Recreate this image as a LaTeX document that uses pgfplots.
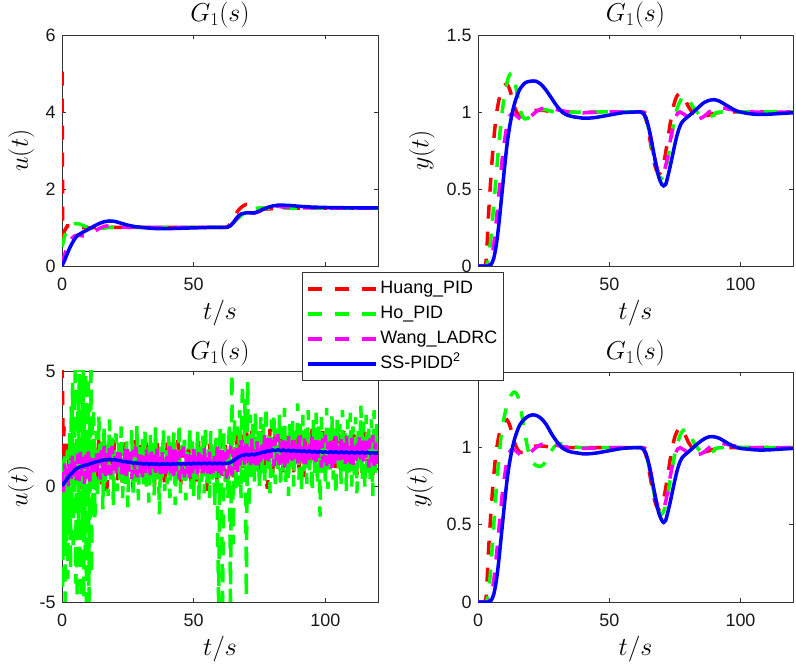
\documentclass[border=0pt]{standalone}
\usepackage{fix-cm}
\usepackage[no-math]{fontspec}
\setmainfont{Liberation Sans}
\usepackage{pgfplots}
\pgfplotsset{compat=1.18}
\definecolor{mred}{rgb}{1,0,0}
\definecolor{mgreen}{rgb}{0,1,0}
\definecolor{mmag}{rgb}{1,0,1}
\definecolor{mblue}{rgb}{0,0,1}
\pgfplotsset{
  mybase/.style={
    scale only axis, anchor=south west,
    xmin=0, xmax=120, xtick={0,50,100},
    axis line style={draw=black!80, line width=0.8bp},
    tick style={draw=black!80, line width=0.8bp},
    tick align=inside, major tick length=4bp,
    /pgf/number format/assume math mode=true,
    ticklabel style={font=\fontsize{18}{20}\selectfont, text=black!90},
    xticklabel style={yshift=-8bp},
    yticklabel style={xshift=-3bp},
    title={$G_1(s)$}, xlabel={$t/s$},
    label style={font=\fontsize{26}{28}\selectfont},
    xlabel style={at={([yshift=-47bp]axis description cs:0.5,0)}, anchor=center},
  },
  tpos/.style={every axis title/.style={font=\fontsize{26}{28}\selectfont, at={([yshift=#1]axis description cs:0.5,1)}, anchor=center}},
  dH/.style={color=mred, line width=3.5bp, dash pattern=on 14bp off 13bp},
  dO/.style={color=mgreen, line width=3.5bp, dash pattern=on 14bp off 13bp},
  dW/.style={color=mmag, line width=3.5bp, dash pattern=on 14bp off 13bp},
  dS/.style={color=mblue, line width=3.5bp},
}
\begin{document}
\begin{tikzpicture}
\useasboundingbox (0,0) rectangle (796bp,666bp);
% ---------------- top left
\begin{axis}[mybase, at={(62bp,400bp)}, width=316bp, height=231bp,
  ymin=0, ymax=6, ytick={0,2,4,6}, ylabel={$u(t)$}, tpos=20bp,
  ylabel style={at={([xshift=-40.5bp]axis description cs:0,0.5)}, anchor=center}]
\addplot[dH] coordinates {(0,5.05)(0.3,0.8)(1,0.92)(2,1.04)(3,1.04)(4,1.02)(6,1.0)(10,0.99)(15,1.0)(30,1.0)(62,1.0)(63,1.02)(64,1.1)(65,1.22)(66,1.35)(67,1.45)(68,1.52)(69,1.57)(70,1.6)(71,1.6)(72,1.58)(74,1.53)(76,1.49)(78,1.48)(80,1.49)(85,1.5)(120,1.5)};
\addplot[dO] coordinates {(0,0.5)(0.5,0.62)(1,0.78)(2,0.95)(3,1.03)(4,1.08)(5,1.1)(6,1.1)(7,1.08)(8,1.05)(10,1.0)(12,0.98)(15,0.98)(18,1.0)(25,1.0)(62,1.0)(63,1.01)(64,1.05)(66,1.18)(68,1.31)(70,1.41)(72,1.47)(74,1.5)(76,1.51)(80,1.5)(120,1.5)};
\addplot[dW] coordinates {(0,0.05)(1,0.3)(2,0.5)(3,0.65)(4,0.74)(5,0.79)(6,0.8)(8,0.78)(10,0.8)(12,0.88)(14,0.97)(16,1.03)(18,1.05)(20,1.04)(23,1.01)(27,1.0)(62,1.0)(63,1.01)(64,1.05)(66,1.2)(68,1.34)(70,1.4)(72,1.38)(73,1.37)(75,1.42)(77,1.5)(79,1.55)(81,1.56)(84,1.53)(88,1.51)(120,1.5)};
\addplot[dS] coordinates {(0,0)(1,0.15)(2,0.32)(3,0.48)(4,0.61)(5,0.72)(6,0.8)(8,0.88)(10,0.95)(12,1.03)(14,1.1)(16,1.15)(18,1.17)(20,1.16)(22,1.12)(25,1.06)(28,1.02)(32,0.99)(36,0.97)(40,0.97)(45,0.98)(50,0.99)(55,1.0)(62,1.0)(63,1.01)(64,1.05)(65,1.12)(66,1.22)(67,1.3)(68,1.35)(69,1.37)(70,1.38)(72,1.38)(73,1.38)(74,1.4)(76,1.46)(78,1.52)(80,1.56)(82,1.58)(84,1.58)(87,1.57)(90,1.55)(95,1.53)(100,1.52)(110,1.51)(120,1.51)};
\end{axis}
% ---------------- top right
\begin{axis}[mybase, at={(478bp,400bp)}, width=315bp, height=231bp,
  ymin=0, ymax=1.5, ytick={0,0.5,1,1.5}, ylabel={$y(t)$}, tpos=20bp,
  ylabel style={at={([xshift=-56bp]axis description cs:0,0.5)}, anchor=center}]
\addplot[dH, smooth] coordinates {(0,0)(2,0)(3,0.02)(3.5,0.15)(4,0.33)(5,0.6)(6,0.82)(7,0.98)(8,1.08)(9,1.14)(10,1.17)(11,1.18)(12,1.15)(13,1.09)(14,1.03)(15,0.99)(16,0.97)(17,0.97)(18,0.98)(20,1.0)(22,1.01)(25,1.01)(30,1.0)(45,1.0)(62,1.0)(63,0.99)(64,0.95)(65,0.87)(66,0.77)(67,0.68)(68,0.62)(69,0.6)(70,0.62)(71,0.69)(72,0.79)(73,0.9)(74,1.0)(75,1.07)(76,1.11)(77,1.12)(78,1.11)(79,1.08)(80,1.04)(82,0.99)(84,0.97)(86,0.97)(88,0.98)(90,0.99)(95,1.0)(120,1.0)};
\addplot[dO, smooth] coordinates {(0,0)(3,0)(4,0.05)(5,0.2)(6,0.4)(7,0.6)(8,0.8)(9,0.97)(10,1.1)(11,1.19)(12,1.24)(13,1.25)(14,1.2)(15,1.11)(16,1.02)(17,0.97)(18,0.955)(19,0.96)(20,0.975)(22,1.0)(24,1.015)(26,1.015)(30,1.0)(45,1.0)(62,1.0)(63,0.99)(64,0.96)(65,0.89)(66,0.8)(67,0.71)(68,0.63)(69,0.58)(70,0.57)(71,0.6)(72,0.67)(73,0.77)(74,0.87)(75,0.96)(76,1.03)(77,1.07)(78,1.1)(79,1.1)(80,1.09)(81,1.06)(82,1.03)(84,0.99)(86,0.97)(88,0.97)(90,0.98)(93,1.0)(120,1.0)};
\addplot[dW, smooth] coordinates {(0,0)(4,0)(5,0.04)(6,0.14)(7,0.3)(8,0.48)(9,0.66)(10,0.8)(11,0.91)(12,0.97)(13,0.99)(14,0.985)(15,0.97)(16,0.955)(17,0.945)(18,0.95)(20,0.97)(22,1.0)(24,1.02)(26,1.03)(28,1.025)(30,1.015)(35,1.0)(40,0.995)(50,1.0)(62,1.0)(63,0.99)(64,0.96)(65,0.9)(66,0.82)(67,0.73)(68,0.65)(69,0.6)(70,0.59)(71,0.62)(72,0.69)(73,0.79)(74,0.88)(75,0.95)(76,0.99)(77,1.0)(78,0.99)(80,0.97)(82,0.955)(84,0.955)(86,0.97)(88,1.0)(90,1.02)(92,1.03)(95,1.02)(100,1.005)(105,1.0)(120,1.0)};
\addplot[dS, smooth] coordinates {(0,0)(4,0)(5,0.01)(6,0.05)(7,0.14)(8,0.28)(9,0.45)(10,0.62)(11,0.78)(12,0.9)(13,0.99)(14,1.06)(15,1.11)(16,1.15)(18,1.19)(20,1.2)(22,1.2)(24,1.18)(26,1.14)(28,1.09)(30,1.04)(32,1.0)(34,0.98)(36,0.97)(38,0.965)(40,0.96)(42,0.96)(45,0.965)(50,0.98)(55,0.995)(60,1.0)(62,1.0)(63,0.99)(64,0.96)(65,0.9)(66,0.82)(67,0.73)(68,0.64)(69,0.57)(70,0.53)(70.7,0.52)(71.5,0.53)(72,0.56)(73,0.63)(74,0.71)(75,0.79)(76,0.86)(77,0.91)(78,0.94)(80,0.97)(82,1.0)(84,1.03)(86,1.06)(88,1.075)(90,1.08)(92,1.07)(94,1.05)(96,1.03)(98,1.01)(100,1.0)(103,0.99)(106,0.985)(110,0.985)(115,0.99)(120,0.995)};
\end{axis}
% ---------------- bottom left
\begin{axis}[mybase, at={(62bp,64bp)}, width=316bp, height=231bp,
  ymin=-5, ymax=5, ytick={-5,0,5}, ylabel={$u(t)$}, tpos=18bp,
  ylabel style={at={([xshift=-41bp]axis description cs:0,0.5)}, anchor=center}]
\addplot[dH] coordinates {(0,5.3)(0.25,3.8)(0.5,1.4)(0.75,2.6)(1,-0.2)(2,1.9)(3,0.1)(4,2.1)(5,0.3)(6,1.8)(7,-0.1)(8,2.0)(9,0.4)(10,1.7)(11,0.0)(12,1.9)(13,0.3)(14,2.1)(15,0.1)(16,1.6)(17,-0.2)(18,1.8)(19,0.4)(20,2.0)(21,0.2)(22,1.7)(23,0.0)(24,1.9)(25,0.3)(26,1.6)(27,-0.1)(28,2.0)(29,0.5)(30,1.8)(31,0.1)(32,1.9)(33,0.2)(34,1.7)(35,-0.2)(36,2.1)(37,0.4)(38,1.6)(39,0.0)(40,1.9)(41,0.3)(42,1.8)(43,0.1)(44,2.0)(45,-0.1)(46,1.7)(47,0.4)(48,1.9)(49,0.2)(50,1.6)(51,0.0)(52,2.1)(53,0.3)(54,1.8)(55,-0.2)(56,1.9)(57,0.5)(58,1.7)(59,0.1)(60,2.0)(61,0.2)(62,1.8)(63,0.3)(64,2.1)(65,0.4)(66,2.3)(67,0.7)(68,2.4)(69,0.8)(70,2.6)(71,0.6)(72,2.4)(73,0.7)(74,2.3)(75,0.5)(76,2.4)(77,0.8)(78,-0.1)(79,2.5)(80,0.6)(81,2.3)(82,0.9)(83,2.4)(84,0.5)(85,2.2)(86,0.7)(87,2.5)(88,0.6)(89,2.3)(90,0.8)(91,2.4)(92,0.4)(93,2.2)(94,0.9)(95,2.5)(96,0.6)(97,2.3)(98,0.7)(99,2.4)(100,0.5)(101,2.2)(102,0.8)(103,2.5)(104,0.6)(105,2.3)(106,0.4)(107,2.4)(108,0.7)(109,2.2)(110,0.9)(111,2.5)(112,0.5)(113,2.3)(114,0.6)(115,2.4)(116,0.8)(117,2.2)(118,0.5)(119,2.4)(120,0.7)};
\addplot[dO] coordinates {(0,1.2)(0.25,-4.5)(0.5,1.0)(0.75,-2.5)(1,1.4)(1.25,-5.5)(1.5,0.8)(1.75,-3.0)(2,1.6)(2.25,-4.0)(2.5,0.5)(2.75,-1.8)(3,2.5)(3.25,-3.6)(3.5,3.5)(3.75,-1.0)(4,4.5)(4.25,-2.8)(4.5,3.0)(4.75,-0.5)(5,5.5)(5.25,-4.2)(5.5,2.2)(5.75,-5.5)(6,4.0)(6.25,-1.5)(6.5,5.5)(6.75,-3.5)(7,2.8)(7.25,-5.5)(7.5,4.6)(7.75,-2.0)(8,5.5)(8.25,-5.5)(8.5,3.2)(8.75,-3.0)(9,5.5)(9.25,-5.5)(9.5,2.5)(9.75,-4.0)(10,4.8)(10.25,-5.5)(10.5,3.6)(10.75,-2.2)(11,5.5)(11.25,-3.8)(11.5,2.7)(11.75,-1.2)(12,3.5)(12.5,-1.4)(13,2.4)(13.5,-0.6)(14,3.1)(14.5,0.2)(15,2.0)(15.5,-1.0)(16,2.7)(16.5,0.1)(17,1.8)(17.5,-0.4)(18,2.9)(18.5,0.3)(19,2.2)(19.5,-0.8)(20,1.6)(20.5,2.3)(21,-0.2)(21.5,1.9)(22,0.3)(22.5,2.6)(23,-0.5)(23.5,1.5)(24,0.1)(24.5,2.2)(25,-0.9)(25.5,1.8)(26,0.5)(26.5,2.5)(27,-0.3)(27.5,1.4)(28,0.2)(28.5,2.7)(29,-0.6)(29.5,1.7)(30,0.4)(30.5,2.1)(31,-0.1)(31.5,2.4)(32,0.0)(32.5,1.6)(33,-0.7)(33.5,2.3)(34,0.3)(34.5,1.9)(35,-0.4)(35.5,2.6)(36,0.2)(36.5,1.5)(37,-1.2)(37.5,2.0)(38,0.4)(38.5,2.5)(39,-0.2)(39.5,1.7)(40,0.1)(40.5,2.2)(41,-0.5)(41.5,1.9)(42,0.3)(42.5,2.4)(43,-0.8)(43.5,1.6)(44,0.2)(44.5,2.8)(45,-0.3)(45.5,1.8)(46,0.0)(46.5,2.3)(47,-0.6)(47.5,1.5)(48,0.4)(48.5,2.6)(49,-0.1)(49.5,2.0)(50,-0.4)(50.5,1.7)(51,0.3)(51.5,2.5)(52,-0.7)(52.5,1.9)(53,0.2)(53.5,2.2)(54,-0.3)(54.5,2.7)(55,0.1)(55.5,1.6)(56,-0.5)(56.5,2.4)(57,0.3)(57.5,1.8)(58,-0.9)(58.5,2.1)(59,0.0)(59.5,-5.5)(60,2.6)(60.5,-0.4)(61,-5.5)(61.5,2.3)(62,0.2)(62.5,1.9)(63,-0.6)(63.5,2.8)(64,-5.5)(64.5,5.5)(65,-2.5)(65.5,3.0)(66,-0.3)(66.5,2.6)(67,0.0)(67.5,3.3)(68,-0.5)(68.5,4.5)(69,0.2)(69.5,3.8)(70,-4.8)(70.5,4.6)(71,-1.0)(71.5,3.1)(72,0.4)(72.5,2.9)(73,0.2)(73.5,3.3)(74,0.6)(74.5,2.4)(75,-0.2)(75.5,3.0)(76,0.5)(76.5,2.7)(77,0.0)(77.5,3.5)(78,0.8)(78.5,2.2)(79,-0.3)(79.5,2.9)(80,0.4)(80.5,3.2)(81,0.1)(81.5,2.5)(82,0.7)(82.5,3.1)(83,-0.1)(83.5,2.6)(84,0.5)(84.5,3.4)(85,0.2)(85.5,2.3)(86,-0.4)(86.5,2.8)(87,0.6)(87.5,3.0)(88,0.0)(88.5,2.4)(89,0.8)(89.5,3.6)(90,0.3)(90.5,2.7)(91,-0.2)(91.5,3.1)(92,0.5)(92.5,2.5)(93,0.1)(93.5,3.3)(94,0.7)(94.5,2.2)(95,-0.3)(95.5,2.9)(96,0.4)(96.5,3.2)(97,0.0)(97.5,2.6)(98,-1.3)(98.5,3.0)(99,0.6)(99.5,2.4)(100,0.2)(100.5,3.4)(101,-0.1)(101.5,2.8)(102,0.5)(102.5,3.1)(103,0.3)(103.5,2.5)(104,-0.4)(104.5,3.0)(105,0.7)(105.5,2.7)(106,0.1)(106.5,3.3)(107,0.4)(107.5,2.3)(108,-0.2)(108.5,2.9)(109,0.6)(109.5,3.2)(110,0.0)(110.5,2.6)(111,0.5)(111.5,3.0)(112,-0.3)(112.5,2.4)(113,0.8)(113.5,3.5)(114,0.2)(114.5,2.8)(115,-0.1)(115.5,3.1)(116,0.6)(116.5,2.5)(117,0.3)(117.5,2.9)(118,-0.4)(118.5,3.3)(119,0.5)(119.5,2.7)(120,0.9)};
\addplot[dW] coordinates {(0,0.62)(0.5,-0.40)(1,1.00)(1.5,0.05)(2,0.98)(2.5,-0.10)(3,1.23)(3.5,0.25)(4,1.47)(4.5,0.18)(5,1.20)(5.5,0.28)(6,1.42)(6.5,0.25)(7,1.50)(7.5,0.45)(8,1.28)(8.5,0.12)(9,1.38)(9.5,0.35)(10,1.52)(10.5,0.22)(11,1.24)(11.5,0.34)(12,1.50)(12.5,0.35)(13,1.62)(13.5,0.60)(14,1.45)(14.5,0.30)(15,1.58)(15.5,0.57)(16,1.75)(16.5,0.44)(17,1.44)(17.5,0.53)(18,1.67)(18.5,0.50)(19,1.75)(19.5,0.69)(20,1.52)(20.5,0.36)(21,1.61)(21.5,0.58)(22,1.74)(22.5,0.42)(23,1.41)(23.5,0.49)(24,1.62)(24.5,0.45)(25,1.70)(25.5,0.65)(26,1.48)(26.5,0.32)(27,1.58)(27.5,0.55)(28,1.72)(28.5,0.40)(29,1.40)(29.5,0.48)(30,1.55)(30.5,0.30)(31,1.45)(31.5,0.38)(32,1.68)(32.5,0.60)(33,1.52)(33.5,0.42)(34,1.75)(34.5,0.52)(35,1.60)(35.5,0.34)(36,1.70)(36.5,0.58)(37,1.50)(37.5,0.28)(38,1.62)(38.5,0.44)(39,1.44)(39.5,0.36)(40,1.58)(40.5,0.62)(41,1.74)(41.5,0.50)(42,1.62)(42.5,0.45)(43,1.70)(43.5,0.65)(44,1.48)(44.5,0.32)(45,1.58)(45.5,0.55)(46,1.72)(46.5,0.40)(47,1.40)(47.5,0.48)(48,1.55)(48.5,0.30)(49,1.45)(49.5,0.38)(50,1.68)(50.5,0.60)(51,1.52)(51.5,0.42)(52,1.75)(52.5,0.52)(53,1.60)(53.5,0.34)(54,1.70)(54.5,0.58)(55,1.50)(55.5,0.28)(56,1.62)(56.5,0.44)(57,1.44)(57.5,0.36)(58,1.58)(58.5,0.62)(59,1.74)(59.5,0.50)(60,1.62)(60.5,0.45)(61,1.70)(61.5,0.65)(62,1.48)(62.5,0.32)(63,1.59)(63.5,0.57)(64,1.77)(64.5,0.49)(65,1.53)(65.5,0.66)(66,1.77)(66.5,0.56)(67,1.74)(67.5,0.71)(68,2.04)(68.5,0.98)(69,1.92)(69.5,0.82)(70,2.14)(70.5,0.90)(71,1.98)(71.5,0.72)(72,2.08)(72.5,0.95)(73,1.87)(73.5,0.66)(74,2.02)(74.5,0.86)(75,1.88)(75.5,0.83)(76,2.08)(76.5,1.14)(77,2.27)(77.5,1.04)(78,2.17)(78.5,1.00)(79,2.25)(79.5,1.21)(80,2.04)(80.5,0.88)(81,2.14)(81.5,1.10)(82,2.27)(82.5,0.94)(83,1.94)(83.5,1.01)(84,2.08)(84.5,0.82)(85,1.97)(85.5,0.90)(86,2.19)(86.5,1.11)(87,2.03)(87.5,0.93)(88,2.25)(88.5,1.02)(89,2.10)(89.5,0.84)(90,2.20)(90.5,1.08)(91,2.00)(91.5,0.78)(92,2.12)(92.5,0.94)(93,1.94)(93.5,0.86)(94,2.08)(94.5,1.12)(95,2.24)(95.5,1.00)(96,2.12)(96.5,0.95)(97,2.20)(97.5,1.15)(98,1.98)(98.5,0.82)(99,2.08)(99.5,1.05)(100,2.22)(100.5,0.90)(101,1.90)(101.5,0.98)(102,2.05)(102.5,0.80)(103,1.95)(103.5,0.88)(104,2.18)(104.5,1.10)(105,2.02)(105.5,0.92)(106,2.25)(106.5,1.02)(107,2.10)(107.5,0.84)(108,2.20)(108.5,1.08)(109,2.00)(109.5,0.78)(110,2.12)(110.5,0.94)(111,1.94)(111.5,0.86)(112,2.08)(112.5,1.12)(113,2.24)(113.5,1.00)(114,2.12)(114.5,0.95)(115,2.20)(115.5,1.15)(116,1.98)(116.5,0.82)(117,2.08)(117.5,1.05)(118,2.22)(118.5,0.90)(119,1.90)(119.5,0.98)(120,2.05)};
\addplot[dS] coordinates {(0,0.02)(1,0.18)(2,0.34)(3,0.5)(4,0.6)(5,0.74)(6,0.8)(7,0.86)(8,0.89)(9,0.93)(10,0.95)(11,1.0)(12,1.03)(13,1.07)(14,1.1)(15,1.12)(16,1.16)(17,1.15)(18,1.18)(19,1.15)(20,1.16)(21,1.13)(22,1.12)(23,1.08)(24,1.08)(25,1.05)(26,1.05)(27,1.01)(28,1.03)(29,0.99)(30,1.0)(31,0.97)(32,1.0)(33,0.96)(34,0.99)(35,0.96)(36,0.98)(37,0.95)(38,0.98)(39,0.96)(40,0.98)(41,0.95)(42,0.99)(43,0.96)(44,0.99)(45,0.97)(46,1.0)(47,0.97)(48,1.0)(49,0.97)(50,1.01)(51,0.98)(52,1.01)(53,0.98)(54,1.01)(55,0.98)(56,1.02)(57,0.98)(58,1.01)(59,0.98)(60,1.01)(61,0.98)(62,1.01)(63,1.0)(64,1.05)(65,1.1)(66,1.2)(67,1.27)(68,1.34)(69,1.35)(70,1.39)(71,1.36)(72,1.4)(73,1.37)(74,1.42)(75,1.43)(76,1.48)(77,1.49)(78,1.54)(79,1.53)(80,1.58)(81,1.55)(82,1.59)(83,1.55)(84,1.58)(85,1.54)(86,1.57)(87,1.53)(88,1.56)(89,1.52)(90,1.55)(91,1.51)(92,1.54)(93,1.5)(94,1.53)(95,1.49)(96,1.52)(97,1.48)(98,1.52)(99,1.48)(100,1.51)(101,1.47)(102,1.51)(103,1.47)(104,1.5)(105,1.46)(106,1.5)(107,1.46)(108,1.49)(109,1.45)(110,1.49)(111,1.45)(112,1.48)(113,1.45)(114,1.48)(115,1.44)(116,1.48)(117,1.44)(118,1.47)(119,1.44)(120,1.46)};
\end{axis}
% ---------------- bottom right
\begin{axis}[mybase, at={(478bp,64bp)}, width=315bp, height=230bp,
  ymin=0, ymax=1.49, ytick={0,0.5,1}, ylabel={$y(t)$}, tpos=19bp,
  ylabel style={at={([xshift=-58bp]axis description cs:0,0.5)}, anchor=center}]
\addplot[dH, smooth] coordinates {(0,0)(2,0)(3,0.02)(3.5,0.15)(4,0.33)(5,0.6)(6,0.82)(7,0.98)(8,1.08)(9,1.14)(10,1.17)(11,1.18)(12,1.15)(13,1.09)(14,1.03)(15,0.99)(16,0.97)(17,0.97)(18,0.98)(20,1.0)(22,1.01)(25,1.01)(30,1.0)(45,1.0)(62,1.0)(63,0.99)(64,0.95)(65,0.87)(66,0.77)(67,0.68)(68,0.62)(69,0.6)(70,0.62)(71,0.69)(72,0.79)(73,0.9)(74,1.0)(75,1.07)(76,1.11)(77,1.13)(78,1.12)(79,1.08)(80,1.04)(82,0.99)(84,0.97)(86,0.97)(88,0.98)(90,0.99)(95,1.0)(120,1.0)};
\addplot[dO, smooth] coordinates {(0,0)(3,0)(4,0.06)(5,0.25)(6,0.5)(7,0.74)(8,0.94)(9,1.1)(10,1.2)(11,1.27)(12,1.32)(13,1.35)(14,1.36)(15,1.34)(16,1.28)(17,1.18)(18,1.08)(19,0.99)(20,0.93)(21,0.9)(22,0.885)(23,0.88)(24,0.88)(25,0.89)(26,0.92)(28,0.98)(30,1.02)(33,1.025)(36,1.01)(40,1.0)(62,1.0)(63,0.99)(64,0.96)(65,0.89)(66,0.8)(67,0.71)(68,0.63)(69,0.58)(70,0.57)(71,0.6)(72,0.67)(73,0.77)(74,0.87)(75,0.96)(76,1.03)(77,1.08)(78,1.11)(79,1.12)(80,1.11)(81,1.08)(82,1.04)(84,0.99)(86,0.965)(88,0.965)(90,0.98)(93,1.0)(120,1.0)};
\addplot[dW, smooth] coordinates {(0,0)(4,0)(5,0.04)(6,0.14)(7,0.3)(8,0.48)(9,0.66)(10,0.8)(11,0.91)(12,0.97)(13,0.99)(14,0.985)(15,0.97)(16,0.955)(17,0.945)(18,0.95)(20,0.97)(22,1.0)(24,1.02)(26,1.03)(28,1.025)(30,1.015)(35,1.0)(40,0.995)(50,1.0)(62,1.0)(63,0.99)(64,0.96)(65,0.9)(66,0.82)(67,0.73)(68,0.65)(69,0.6)(70,0.59)(71,0.62)(72,0.69)(73,0.79)(74,0.88)(75,0.95)(76,0.99)(77,1.0)(78,0.99)(80,0.97)(82,0.955)(84,0.955)(86,0.97)(88,1.0)(90,1.02)(92,1.03)(95,1.02)(100,1.005)(105,1.0)(120,1.0)};
\addplot[dS, smooth] coordinates {(0,0)(4,0)(5,0.01)(6,0.05)(7,0.14)(8,0.28)(9,0.45)(10,0.62)(11,0.78)(12,0.9)(13,0.99)(14,1.06)(15,1.11)(16,1.15)(18,1.19)(20,1.21)(22,1.21)(24,1.19)(26,1.15)(28,1.09)(30,1.04)(32,1.0)(34,0.98)(36,0.97)(38,0.965)(40,0.96)(42,0.96)(45,0.965)(50,0.98)(55,0.995)(60,1.0)(62,1.0)(63,0.99)(64,0.96)(65,0.9)(66,0.82)(67,0.73)(68,0.64)(69,0.57)(70,0.53)(70.7,0.515)(71.5,0.53)(72,0.56)(73,0.63)(74,0.71)(75,0.79)(76,0.86)(77,0.91)(78,0.94)(80,0.97)(82,1.0)(84,1.03)(86,1.055)(88,1.07)(90,1.07)(92,1.06)(94,1.04)(96,1.02)(98,1.005)(100,0.995)(103,0.99)(106,0.985)(110,0.985)(115,0.99)(120,0.995)};
\end{axis}
% ---------------- legend
\begin{axis}[scale only axis, anchor=south west, at={(302bp,284bp)}, width=205bp, height=110bp,
  hide axis, xmin=0, xmax=1, ymin=0, ymax=1,
  legend cell align=left,
  legend image code/.code={\draw[#1] (0bp,0bp) -- (68bp,0bp);},
  legend style={at={(axis description cs:0,1)}, anchor=north west,
    draw=black!80, line width=0.8bp, fill=white,
    font=\fontsize{18}{20}\selectfont,
    inner xsep=4bp, inner ysep=6bp, row sep=3.5bp,
    nodes={inner sep=2.5bp, text height=12.5bp, text depth=4bp}}]
\addlegendimage{dH}\addlegendentry{Huang\_PID}
\addlegendimage{dO}\addlegendentry{Ho\_PID}
\addlegendimage{dW}\addlegendentry{Wang\_LADRC}
\addlegendimage{dS}\addlegendentry{SS-PIDD\textsuperscript{2}}
\end{axis}
\end{tikzpicture}
\end{document}
